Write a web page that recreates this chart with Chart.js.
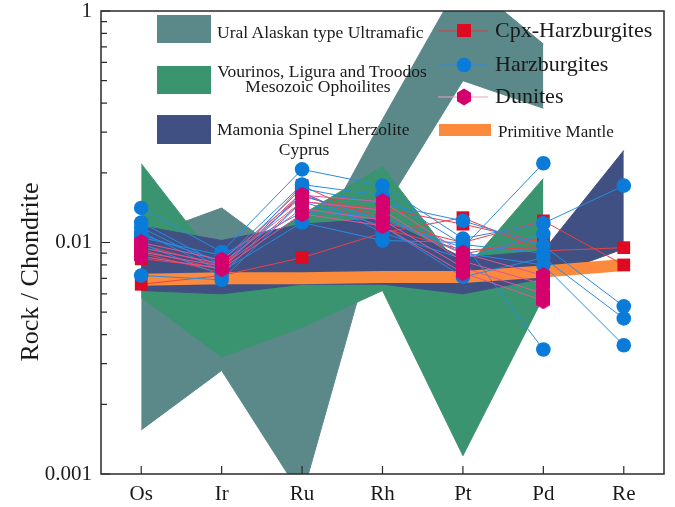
<!DOCTYPE html>
<html lang="en">
<head>
<meta charset="UTF-8">
<title>Rock / Chondrite</title>
<script src="https://cdn.jsdelivr.net/npm/chart.js"></script>
<style>
  body { margin: 0; background: #fff; }
  #wrap { position: relative; width: 675px; height: 507px; }
  #overlay { position: absolute; left: 0; top: 0; pointer-events: none; }
  #overlay text { font-family: 'Liberation Serif', 'Times New Roman', serif; fill: #1a1a1a; }
</style>
</head>
<body>
<div id="wrap">
  <canvas id="grafico" width="675" height="507"></canvas>
  <svg id="overlay" width="675" height="507">
    <!-- legenda esquerda: campos -->
    <rect x="157" y="15" width="54" height="28" fill="#5b8889"/>
    <text x="217" y="38" font-size="17.5">Ural Alaskan type Ultramafic</text>
    <rect x="157" y="66" width="54" height="28" fill="#3b9470"/>
    <text x="322" y="77" font-size="17.5" text-anchor="middle">Vourinos, Ligura and Troodos</text>
    <text x="318" y="92" font-size="17.5" text-anchor="middle">Mesozoic Ophoilites</text>
    <rect x="157" y="115" width="54" height="29" fill="#405083"/>
    <text x="217" y="135" font-size="17.5">Mamonia Spinel Lherzolite</text>
    <text x="304" y="155" font-size="17.5" text-anchor="middle">Cyprus</text>
    <!-- legenda direita: amostras -->
    <line x1="438" y1="31" x2="488" y2="31" stroke="#e23a3a" stroke-width="1"/>
    <rect x="457" y="24" width="14" height="13" fill="#dd0a22"/>
    <text x="495" y="37" font-size="22">Cpx-Harzburgites</text>
    <line x1="438" y1="65" x2="488" y2="65" stroke="#2a8ae0" stroke-width="1"/>
    <circle cx="464" cy="65" r="7.3" fill="#0a7bd8"/>
    <text x="495" y="71" font-size="22">Harzburgites</text>
    <line x1="438" y1="97" x2="488" y2="97" stroke="#ef9cc0" stroke-width="1"/>
    <polygon points="464,88.5 471,92.75 471,101.25 464,105.5 457,101.25 457,92.75" fill="#d4006e"/>
    <text x="495" y="103" font-size="22">Dunites</text>
    <rect x="439" y="124" width="52" height="12" fill="#fb8a3d"/>
    <text x="498" y="137" font-size="17">Primitive Mantle</text>
    <!-- titulo eixo y -->
    <text transform="translate(38,272) rotate(-90)" font-size="26" text-anchor="middle">Rock / Chondrite</text>
  </svg>
</div>

<script>
  // categorias e eixo
  const elementos = ['Os', 'Ir', 'Ru', 'Rh', 'Pt', 'Pd', 'Re'];
  const yTickValues = [0.001, 0.01, 0.1];
  const yTickLabels = ['0.001', '0.01', '1'];

  // campos de referencia (limite inferior / superior)
  const uralLower = [0.00155, 0.0028, 0.0008, 0.0136, 0.050, 0.038, null];
  const uralUpper = [0.0105, 0.0141, 0.0078, 0.034, 0.14, 0.072, null];
  const ofioliticoLower = [0.0058, 0.0032, 0.0043, 0.0062, 0.0012, 0.0058, null];
  const ofioliticoUpper = [0.0219, 0.0078, 0.0132, 0.0213, 0.0075, 0.0189, null];
  const mamoniaLower = [0.0062, 0.0060, 0.0066, 0.0066, 0.0060, 0.0070, 0.0094];
  const mamoniaUpper = [0.0118, 0.0102, 0.0120, 0.0127, 0.0086, 0.0092, 0.025];
  const mantoPrimitivo = [0.0069, 0.0070, 0.0070, 0.0071, 0.0071, 0.0075, 0.0080];

  // amostras
  const cpxHarz1 = [0.0066, 0.0072, 0.0086, 0.0110, 0.0128, 0.0092, 0.0095];
  const cpxHarz2 = [0.0093, 0.0076, 0.0176, 0.0122, 0.0100, 0.0124, 0.0080];
  const cpxHarz3 = [0.0098, 0.0079, 0.0158, 0.0130, 0.0089, 0.0105, null];
  const cpxHarz4 = [0.0090, 0.0074, 0.0150, 0.0140, 0.0120, 0.0100, null];
  const cpxHarz5 = [0.0085, 0.0078, 0.0165, 0.0115, 0.0093, 0.0095, null];

  const harz1 = [0.0141, 0.0091, 0.0207, 0.0176, 0.0104, 0.0121, 0.0176];
  const harz2 = [0.0122, 0.0080, 0.0171, 0.0147, 0.0124, 0.0097, 0.0053];
  const harz3 = [0.0116, 0.0078, 0.0160, 0.0125, 0.0095, 0.0220, null];
  const harz4 = [0.0111, 0.0075, 0.0122, 0.0102, 0.0100, 0.00345, null];
  const harz5 = [0.0072, 0.0069, 0.0150, 0.0118, 0.0071, 0.0086, 0.0047];
  const harz6 = [0.0105, 0.0088, 0.0135, 0.0130, 0.0090, 0.0080, 0.0036];
  const harz7 = [0.0099, 0.0072, 0.0165, 0.0110, 0.0085, 0.0109, null];
  const harz8 = [0.0108, 0.0083, 0.0178, 0.0160, 0.0098, 0.0090, null];

  const dunito1 = [0.0100, 0.0084, 0.0160, 0.0150, 0.0090, 0.0072, null];
  const dunito2 = [0.0095, 0.0081, 0.0150, 0.0138, 0.0083, 0.0066, null];
  const dunito3 = [0.0091, 0.0079, 0.0140, 0.0125, 0.0078, 0.0060, null];
  const dunito4 = [0.0087, 0.0077, 0.0133, 0.0118, 0.0074, 0.0056, null];

  const fonte = "'Liberation Serif', 'Times New Roman', serif";

  function hexagono(w, h, cor) {
    const c = document.createElement('canvas');
    c.width = w; c.height = h;
    const g = c.getContext('2d');
    g.fillStyle = cor;
    g.beginPath();
    g.moveTo(w / 2, 0); g.lineTo(w, h / 4); g.lineTo(w, 3 * h / 4);
    g.lineTo(w / 2, h); g.lineTo(0, 3 * h / 4); g.lineTo(0, h / 4);
    g.closePath();
    g.fill();
    return c;
  }

  const datasets = [];

  function faixa(lower, upper, cor, ordem) {
    datasets.push({ data: lower, borderColor: cor, borderWidth: 1, pointRadius: 0, fill: false, order: ordem });
    datasets.push({ data: upper, borderColor: cor, borderWidth: 1, pointRadius: 0, fill: '-1', backgroundColor: cor, order: ordem });
  }

  function amostras(lista, corLinha, corPonto, estilo, raio, ordem) {
    lista.forEach(d => datasets.push({
      data: d, borderColor: corLinha, borderWidth: 1, fill: false, order: ordem,
      pointStyle: estilo, pointRadius: raio, pointBackgroundColor: corPonto,
      pointBorderColor: corPonto, pointBorderWidth: 0
    }));
  }

  faixa(uralLower, uralUpper, '#5b8889', 100);
  faixa(ofioliticoLower, ofioliticoUpper, '#3b9470', 90);
  faixa(mamoniaLower, mamoniaUpper, '#405083', 80);
  datasets.push({ data: mantoPrimitivo, borderColor: '#fb8a3d', borderWidth: 12, borderCapStyle: 'butt', pointRadius: 0, fill: false, order: 70 });

  amostras([cpxHarz1, cpxHarz2, cpxHarz3, cpxHarz4, cpxHarz5], '#e8414a', '#dd0a22', 'rect', 9, 30);
  amostras([harz1, harz2, harz3, harz4, harz5, harz6, harz7, harz8], '#2a8ae0', '#0a7bd8', 'circle', 7.3, 20);
  amostras([dunito1, dunito2, dunito3, dunito4], '#e0559c', '#d4006e', hexagono(14, 17, '#d4006e'), 8, 10);

  // moldura e marcas de escala para dentro
  const molduraPlugin = {
    id: 'moldura',
    afterDraw(chart) {
      const { ctx, chartArea: a, scales: { x, y } } = chart;
      ctx.save();
      ctx.strokeStyle = '#2a2a2a';
      ctx.lineWidth = 1.5;
      ctx.strokeRect(a.left, a.top, a.right - a.left, a.bottom - a.top);
      ctx.lineWidth = 1.2;
      ctx.beginPath();
      for (let d = 0.001; d < 0.1; d *= 10) {
        for (let m = 1; m <= 10; m++) {
          const v = d * m;
          const py = y.getPixelForValue(v);
          const major = yTickValues.some(t => Math.abs(t - v) / t < 1e-6);
          ctx.moveTo(a.left, py);
          ctx.lineTo(a.left + (major ? 9 : 6), py);
        }
      }
      x.ticks.forEach((t, i) => {
        const px = x.getPixelForTick(i);
        ctx.moveTo(px, a.bottom);
        ctx.lineTo(px, a.bottom - 8);
      });
      ctx.stroke();
      ctx.restore();
    }
  };

  new Chart(document.getElementById('grafico'), {
    type: 'line',
    data: { labels: elementos, datasets: datasets },
    options: {
      responsive: false,
      animation: false,
      events: [],
      layout: { padding: { top: 11, right: 11, left: 0, bottom: 0 } },
      plugins: { legend: { display: false }, tooltip: { enabled: false } },
      scales: {
        x: {
          type: 'category',
          offset: true,
          grid: { display: false, drawTicks: false },
          border: { display: false },
          ticks: { font: { family: fonte, size: 21 }, color: '#1a1a1a', padding: 8, maxRotation: 0 },
          afterFit: s => { s.height = 33; s.paddingLeft = 0; s.paddingRight = 0; }
        },
        y: {
          type: 'logarithmic',
          min: 0.001,
          max: 0.1,
          grid: { display: false, drawTicks: false },
          border: { display: false },
          ticks: {
            autoSkip: false,
            font: { family: fonte, size: 21 },
            color: '#1a1a1a',
            padding: 9,
            callback: v => {
              const i = yTickValues.findIndex(t => Math.abs(t - v) / t < 1e-6);
              return i >= 0 ? yTickLabels[i] : '';
            }
          },
          afterFit: s => { s.width = 101; s.paddingTop = 0; s.paddingBottom = 0; }
        }
      }
    },
    plugins: [molduraPlugin]
  });
</script>
</body>
</html>
